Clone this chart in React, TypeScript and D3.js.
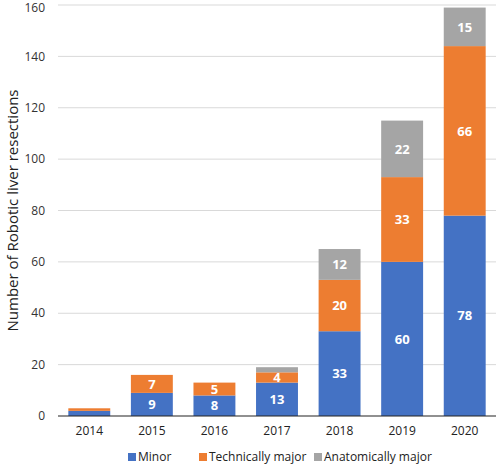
import React from "react";
import * as d3 from "d3";

const years = ["2014", "2015", "2016", "2017", "2018", "2019", "2020"];
const minor = [2, 9, 8, 13, 33, 60, 78];
const technicallyMajor = [1, 7, 5, 4, 20, 33, 66];
const anatomicallyMajor = [0, 0, 0, 2, 12, 22, 15];
const seriesNames = ["Minor", "Technically major", "Anatomically major"];
const colors = ["#4472C4", "#ED7D31", "#A5A5A5"];
const yTicks = [0, 20, 40, 60, 80, 100, 120, 140, 160];

const W = 500, H = 468;
const m = { left: 58, right: 4, top: 5, bottom: 52 };
const FONT = "'Open Sans', 'Liberation Sans', sans-serif";

export default function App() {
  const x = d3.scaleBand().domain(years).range([m.left, W - m.right]).paddingInner(0.33).paddingOuter(0.165);
  const y = d3.scaleLinear().domain([0, 160]).range([H - m.bottom, m.top]);
  const rows = years.map((yr, i) => ({ year: yr, Minor: minor[i], "Technically major": technicallyMajor[i], "Anatomically major": anatomicallyMajor[i] }));
  const stack = d3.stack<any>().keys(seriesNames)(rows);

  return (
    <svg width={W} height={H} style={{ position: "absolute", left: 0, top: 0, background: "#fff" }} fontFamily={FONT}>
      {yTicks.map((t) => (
        <g key={t}>
          {t > 0 && <line x1={m.left} x2={W - m.right} y1={y(t)} y2={y(t)} stroke="#D9D9D9" strokeWidth={1} />}
          <text x={45} y={y(t)} dy={t === 160 ? "0.62em" : "0.35em"} textAnchor="end" fontSize={12} fill="#333">{t}</text>
        </g>
      ))}
      {stack.map((layer, si) => (
        <g key={si} fill={colors[si]}>
          {layer.map((d, i) => {
            const v = d[1] - d[0];
            if (v <= 0) return null;
            return (
              <g key={i}>
                <rect x={x(years[i])} y={y(d[1])} width={x.bandwidth()} height={y(d[0]) - y(d[1])} />
                {v >= 4 && (
                  <text x={(x(years[i]) as number) + x.bandwidth() / 2} y={(y(d[0]) + y(d[1])) / 2} dy="0.36em" textAnchor="middle" fontSize={13} fontWeight="bold" fill="#fff">{v}</text>
                )}
              </g>
            );
          })}
        </g>
      ))}
      <line x1={m.left} x2={W - m.right} y1={y(0)} y2={y(0)} stroke="#222" strokeWidth={1.2} />
      {years.map((yr) => (
        <text key={yr} x={(x(yr) as number) + x.bandwidth() / 2} y={y(0) + 19} textAnchor="middle" fontSize={12} fill="#222">{yr}</text>
      ))}
      <text transform={`translate(18,${(y(0) + y(160)) / 2}) rotate(-90)`} textAnchor="middle" fontSize={15} fill="#222">Number of Robotic liver resections</text>
      {seriesNames.map((s, i) => {
        const lx = [128, 199, 314][i];
        return (
          <g key={s}>
            <rect x={lx} y={453} width={8} height={8} fill={colors[i]} />
            <text x={lx + 10} y={457} dy="0.35em" fontSize={12} fill="#222">{s}</text>
          </g>
        );
      })}
    </svg>
  );
}
